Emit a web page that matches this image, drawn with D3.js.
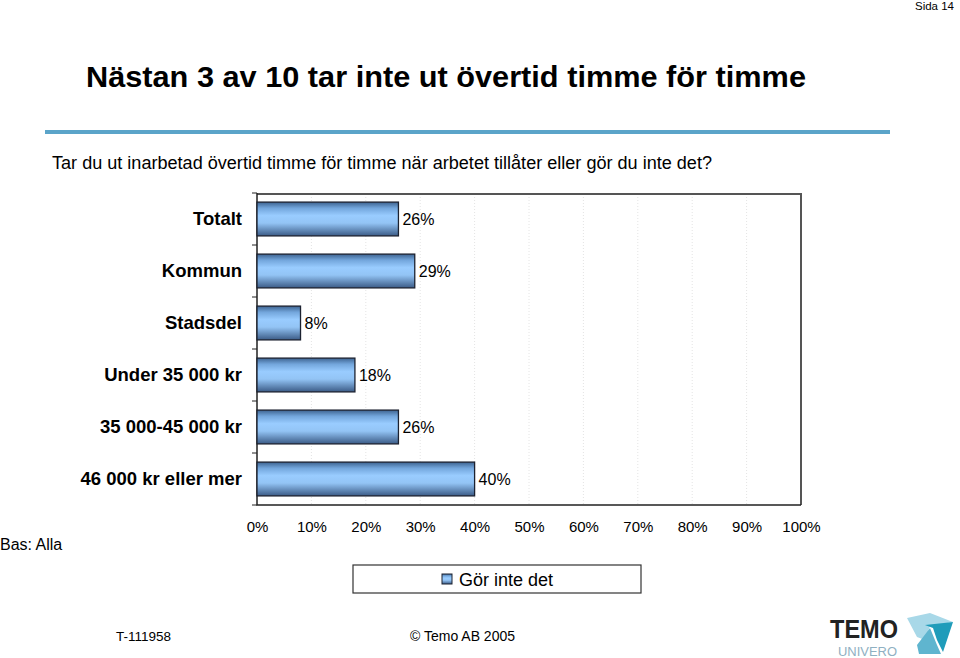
<!DOCTYPE html>
<html>
<head>
<meta charset="utf-8">
<script src="https://cdnjs.cloudflare.com/ajax/libs/d3/7.8.5/d3.min.js"></script>
<style>
  body { margin: 0; background: #fff; }
  text { font-family: Arial, "Liberation Sans", sans-serif; fill: #000; }
</style>
</head>
<body>
<div id="chart"></div>
<script>
// data
var categories = ["Totalt", "Kommun", "Stadsdel", "Under 35 000 kr", "35 000-45 000 kr", "46 000 kr eller mer"];
var values = [26, 29, 8, 18, 26, 40];
var tickValues = [0, 10, 20, 30, 40, 50, 60, 70, 80, 90, 100];
var seriesName = "Gör inte det";

var svg = d3.select('#chart').append('svg')
    .attr('width', 960)
    .attr('height', 658)

// bar gradient
var grad = svg.append('defs').append('linearGradient')
    .attr('id', 'barFill')
    .attr('x1', 0).attr('y1', 0).attr('x2', 0).attr('y2', 1)
grad.selectAll('stop')
    .data([[0, '#3d6390'], [0.18, '#73a6dc'], [0.4, '#99ccff'], [0.62, '#93c4f5'], [1, '#3b5b86']])
    .enter().append('stop')
    .attr('offset', d => d[0])
    .attr('stop-color', d => d[1])

// page header
svg.append('text').attr('x', 954).attr('y', 10).attr('text-anchor', 'end')
    .style('font-size', '11.5px').text('Sida 14')

svg.append('text').attr('x', 86).attr('y', 87)
    .attr('textLength', 720).attr('lengthAdjust', 'spacingAndGlyphs')
    .style('font-size', '29px').style('font-weight', 'bold')
    .text('Nästan 3 av 10 tar inte ut övertid timme för timme')

svg.append('rect').attr('x', 45).attr('y', 130).attr('width', 845).attr('height', 4)
    .attr('fill', '#5ba4c9')

svg.append('text').attr('x', 52).attr('y', 169)
    .attr('textLength', 660).attr('lengthAdjust', 'spacingAndGlyphs')
    .style('font-size', '17.5px')
    .text('Tar du ut inarbetad övertid timme för timme när arbetet tillåter eller gör du inte det?')

// scales
var x = d3.scaleLinear().domain([0, 100]).range([257, 801])
var y = d3.scaleBand().domain(categories).range([193, 505])
    .paddingInner(0.35).paddingOuter(0.175)

// grid
svg.append('g').selectAll('line')
    .data(tickValues.slice(1, -1))
    .enter().append('line')
    .attr('x1', d => x(d)).attr('x2', d => x(d))
    .attr('y1', 194).attr('y2', 504)
    .attr('stroke', '#e4e4e4')
    .attr('stroke-dasharray', '1,2')

// plot frame
svg.append('path')
    .attr('d', 'M257,194H801V505')
    .attr('fill', 'none').attr('stroke', '#555').attr('stroke-width', 2)
svg.append('path')
    .attr('d', 'M257,193V505H801')
    .attr('fill', 'none').attr('stroke', '#222').attr('stroke-width', 1.5)

// category ticks between bands
var step = y.step()
svg.append('g').selectAll('line')
    .data(d3.range(categories.length + 1))
    .enter().append('line')
    .attr('x1', 252).attr('x2', 257)
    .attr('y1', d => 193 + d * step).attr('y2', d => 193 + d * step)
    .attr('stroke', '#222')

// category labels
svg.append('g').selectAll('text')
    .data(categories)
    .enter().append('text')
    .attr('x', 242)
    .attr('y', d => y(d) + y.bandwidth() / 2)
    .attr('dy', '0.35em')
    .attr('text-anchor', 'end')
    .style('font-size', '18.5px').style('font-weight', 'bold')
    .text(d => d)

// bars
svg.append('g').selectAll('rect')
    .data(values)
    .enter().append('rect')
    .attr('x', x(0))
    .attr('y', (d, i) => y(categories[i]))
    .attr('width', d => x(d) - x(0))
    .attr('height', y.bandwidth())
    .attr('fill', 'url(#barFill)')
    .attr('stroke', '#1c2230').attr('stroke-width', 1.3)

// value labels
svg.append('g').selectAll('text')
    .data(values)
    .enter().append('text')
    .attr('x', d => x(d) + 4)
    .attr('y', (d, i) => y(categories[i]) + y.bandwidth() / 2)
    .attr('dy', '0.35em')
    .style('font-size', '16px')
    .text(d => d + '%')

// bottom axis, labels only
var xAxis = svg.append('g')
    .attr('transform', 'translate(0, 518)')
    .call(d3.axisBottom(x).tickValues(tickValues).tickSize(0).tickFormat(d => d + '%'))
xAxis.select('.domain').remove()
xAxis.selectAll('text')
    .style('font-size', '15px')
    .style('font-family', 'Arial, "Liberation Sans", sans-serif')
    .attr('fill', '#000')

svg.append('text').attr('x', 0).attr('y', 550)
    .style('font-size', '16px').text('Bas: Alla')

// legend
svg.append('rect').attr('x', 353).attr('y', 565).attr('width', 288).attr('height', 28)
    .attr('fill', '#fff').attr('stroke', '#333').attr('stroke-width', 1.2)
svg.append('rect').attr('x', 442).attr('y', 574).attr('width', 10).attr('height', 10)
    .attr('fill', 'url(#barFill)').attr('stroke', '#1c2230')
svg.append('text').attr('x', 459).attr('y', 586)
    .style('font-size', '18px').text(seriesName)

// footer
svg.append('text').attr('x', 116).attr('y', 641)
    .style('font-size', '13.5px').text('T-111958')
svg.append('text').attr('x', 410).attr('y', 641)
    .style('font-size', '14px').text('© Temo AB 2005')

// logo
svg.append('text').attr('x', 830).attr('y', 638)
    .attr('textLength', 68).attr('lengthAdjust', 'spacingAndGlyphs')
    .style('font-size', '26px').style('font-weight', 'bold').style('fill', '#222')
    .text('TEMO')
svg.append('text').attr('x', 838).attr('y', 656)
    .attr('textLength', 59).attr('lengthAdjust', 'spacingAndGlyphs')
    .style('font-size', '12px').style('fill', '#8fb0c2')
    .text('UNIVERO')
svg.append('path')
    .attr('d', 'M907,618L930,613L953,622L930,626L925,640L917,637Z')
    .attr('fill', '#a8d8e8')
svg.append('path')
    .attr('d', 'M925,625L953,622L943,652L937,640L933,628Z')
    .attr('fill', '#1f9cba')
svg.append('path')
    .attr('d', 'M917,645L930,628L937,645L941,654L919,654Z')
    .attr('fill', '#5fb5cf')
</script>
</body>
</html>
